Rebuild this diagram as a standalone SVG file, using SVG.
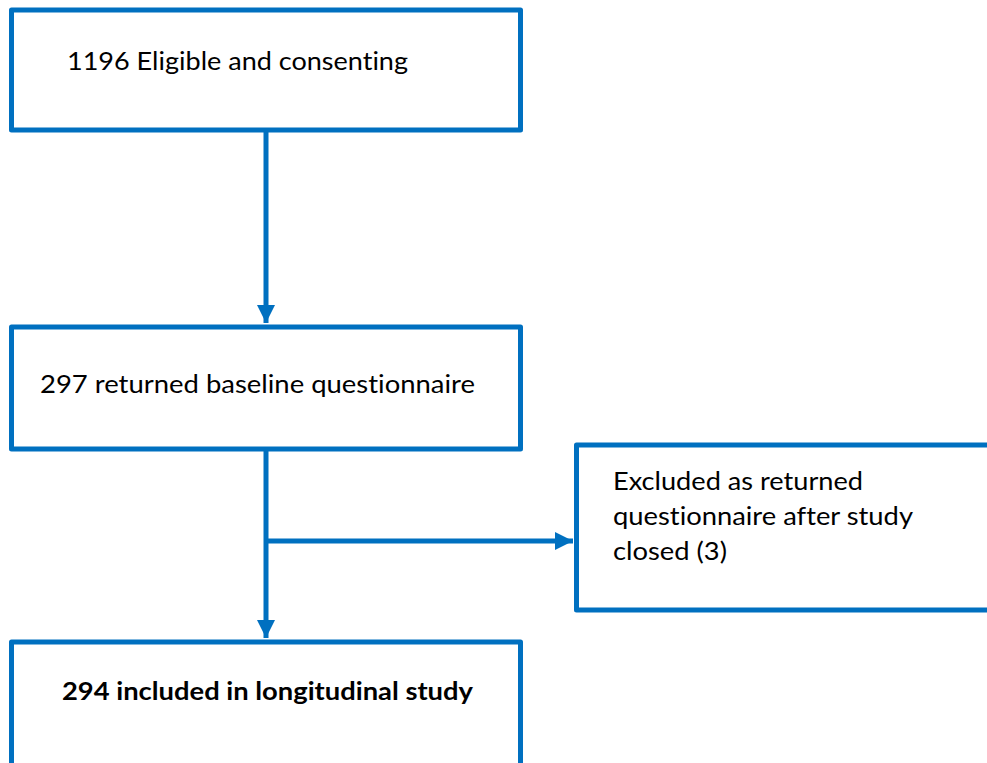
<svg xmlns="http://www.w3.org/2000/svg" width="987" height="763" viewBox="0 0 987 763">
<defs>
<style>
.box{fill:#fff;stroke:#0070C0;stroke-width:5;stroke-linejoin:round}
.t{font-family:Lato,"Liberation Sans",sans-serif;font-size:25px;fill:#000;font-variant-ligatures:none}
.b{font-weight:bold}
.c{fill:none;stroke:#0070C0;stroke-width:5}
</style>
<marker id="ah" viewBox="0 0 10 10" refX="10" refY="5" markerWidth="3.6" markerHeight="3.6" markerUnits="strokeWidth" orient="auto">
<path d="M0,0 L10,5 L0,10 Z" fill="#0070C0"/>
</marker>
</defs>
<rect width="987" height="763" fill="#fff"/>
<g id="connectors">
<line class="c" x1="266" y1="131" x2="266" y2="323" marker-end="url(#ah)"/>
<line class="c" x1="266" y1="450" x2="266" y2="638" marker-end="url(#ah)"/>
<line class="c" x1="266" y1="541" x2="573" y2="541" marker-end="url(#ah)"/>
</g>
<g id="n1">
<rect class="box" x="11.5" y="10" width="509" height="120"/>
<text class="t" x="67" y="70" textLength="341" lengthAdjust="spacingAndGlyphs">1196 Eligible and consenting</text>
</g>
<g id="n2">
<rect class="box" x="11.5" y="327" width="509" height="122"/>
<text class="t" x="40" y="393" textLength="435" lengthAdjust="spacingAndGlyphs">297 returned baseline questionnaire</text>
</g>
<g id="n3">
<rect class="box" x="576.5" y="445" width="430" height="165"/>
<text class="t" x="613" y="490" textLength="250" lengthAdjust="spacingAndGlyphs">Excluded as returned</text>
<text class="t" x="613" y="525" textLength="300" lengthAdjust="spacingAndGlyphs">questionnaire after study</text>
<text class="t" x="613" y="560" textLength="114" lengthAdjust="spacingAndGlyphs">closed (3)</text>
</g>
<g id="n4">
<rect class="box" x="11.5" y="642" width="509" height="140"/>
<text class="t b" x="62" y="700" textLength="411" lengthAdjust="spacingAndGlyphs">294 included in longitudinal study</text>
</g>
</svg>
